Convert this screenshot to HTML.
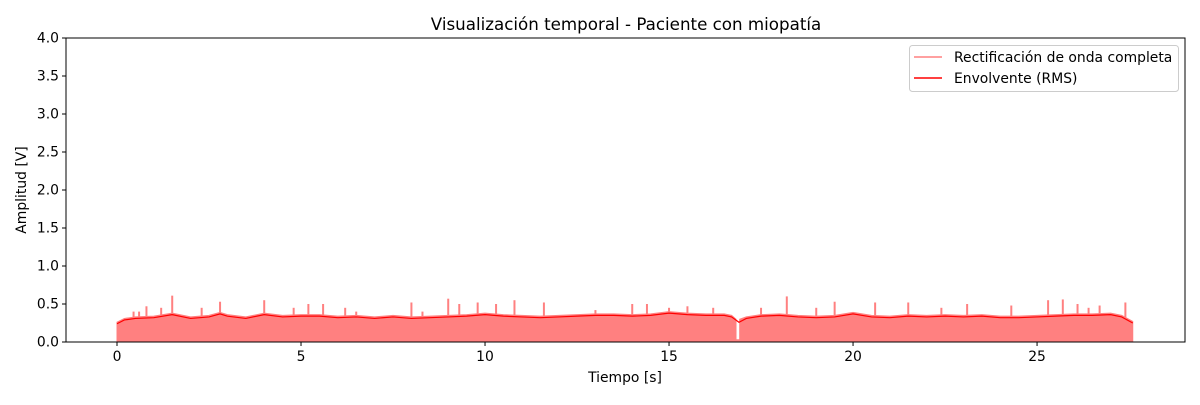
<!DOCTYPE html>
<html><head><meta charset="utf-8"><style>
body{margin:0;background:#fff;font-family:"Liberation Sans","DejaVu Sans",sans-serif}
svg text{font-family:"DejaVu Sans","Liberation Sans",sans-serif}
</style></head><body>
<svg id="c" width="1200" height="400"></svg>
<script>
const envTimes=[0,0.2,0.5,1,1.5,2,2.5,2.8,3,3.5,4,4.5,5,5.5,6,6.5,7,7.5,8,8.5,9,9.5,10,10.5,11,11.5,12,12.5,13,13.5,14,14.5,15,15.5,16,16.5,16.7,16.9,17.1,17.5,18,18.5,19,19.5,20,20.5,21,21.5,22,22.5,23,23.5,24,24.5,25,25.5,26,26.5,27,27.3,27.6];
const envValues=[0.24,0.29,0.31,0.32,0.36,0.31,0.33,0.37,0.34,0.31,0.36,0.33,0.34,0.34,0.32,0.33,0.31,0.33,0.31,0.32,0.33,0.34,0.36,0.34,0.33,0.32,0.33,0.34,0.35,0.35,0.34,0.35,0.38,0.36,0.35,0.35,0.33,0.26,0.31,0.34,0.35,0.33,0.32,0.33,0.37,0.33,0.32,0.34,0.33,0.34,0.33,0.34,0.32,0.32,0.33,0.34,0.35,0.35,0.36,0.33,0.25];
const spikeTimes=[0.45,0.6,0.8,1.2,1.5,2.3,2.8,4.0,4.8,5.2,5.6,6.2,6.5,8.0,8.3,9.0,9.3,9.8,10.3,10.8,11.6,13.0,14.0,14.4,15.0,15.5,16.2,17.5,18.2,19.0,19.5,20.6,21.5,22.4,23.1,24.3,25.3,25.7,26.1,26.4,26.7,27.4];
const spikeValues=[0.4,0.4,0.47,0.45,0.61,0.45,0.53,0.55,0.45,0.5,0.5,0.45,0.4,0.52,0.4,0.57,0.5,0.52,0.5,0.55,0.52,0.42,0.5,0.5,0.45,0.47,0.45,0.45,0.6,0.45,0.53,0.52,0.52,0.45,0.5,0.48,0.55,0.56,0.5,0.45,0.48,0.52];
const gapTimes=[16.82,16.92];const gapValue=0.03;
const yTicks=[0,0.5,1,1.5,2,2.5,3,3.5,4];
const xTicks=[0,5,10,15,20,25];
const L=66,R=1185,T=38,B=342,xmin=-1.386,xmax=29.02,ymax=4;
const X=t=>L+(t-xmin)/(xmax-xmin)*(R-L), Y=v=>B-v/ymax*(B-T);
const svg=document.getElementById('c');const NS='http://www.w3.org/2000/svg';
function mk(tag,attrs,parent){const e=document.createElementNS(NS,tag);for(const k in attrs)e.setAttribute(k,attrs[k]);(parent||svg).appendChild(e);return e;}
let d='M'+X(envTimes[0])+','+Y(0);
envTimes.forEach((t,i)=>{
  if(t>gapTimes[0]&&i>0&&envTimes[i-1]<gapTimes[0]){d+=' L'+X(gapTimes[0])+','+Y(0.3)+' L'+X(gapTimes[0])+','+Y(gapValue)+' L'+X(gapTimes[1])+','+Y(gapValue)+' L'+X(gapTimes[1])+','+Y(0.3);}
  if(t>gapTimes[0]&&t<gapTimes[1])return;
  d+=' L'+X(t)+','+Y(envValues[i]+0.02);
});
d+=' L'+X(envTimes[envTimes.length-1])+','+Y(0)+'Z';
const f=mk('path',{d:d,fill:'#ff8080',stroke:'#ff8080','stroke-width':1});


spikeTimes.forEach((t,i)=>{const s=mk('line',{x1:X(t),x2:X(t),y1:Y(0.3),y2:Y(spikeValues[i]),stroke:'#ff8080','stroke-width':2});

});
const env=mk('polyline',{points:envTimes.map((t,i)=>X(t)+','+Y(envValues[i])).join(' '),fill:'none',stroke:'#ff0000','stroke-width':1.2});


const fr=mk('rect',{x:L,y:T,width:R-L,height:B-T,fill:'none',stroke:'#000','stroke-width':1});


yTicks.forEach(v=>{mk('line',{x1:L-4,x2:L,y1:Y(v),y2:Y(v),stroke:'#000'});
const tx=mk('text',{x:L-7,y:Y(v)+4.5,'text-anchor':'end','font-size':13.9});tx.textContent=v.toFixed(1);

});
xTicks.forEach(v=>{mk('line',{x1:X(v),x2:X(v),y1:B,y2:B+4,stroke:'#000'});
const tx=mk('text',{x:X(v),y:B+19,'text-anchor':'middle','font-size':13.9});tx.textContent=v;

});
</script>
<svg width="1200" height="400" style="position:absolute;left:0;top:0">
<text x="626" y="30" text-anchor="middle" font-size="16.7">Visualización temporal - Paciente con miopatía</text>
<text x="625" y="382" text-anchor="middle" font-size="13.9">Tiempo [s]</text>
<text x="26" y="190" text-anchor="middle" font-size="13.9" transform="rotate(-90 26 190)">Amplitud [V]</text>
<g>
<rect x="909.5" y="45.5" width="269" height="46" rx="3" fill="#fff" fill-opacity="0.8" stroke="#ccc"/>
<line x1="914" x2="942" y1="57" y2="57" stroke="#ff8080" stroke-width="1.5"/>
<text x="954" y="62" font-size="13.9">Rectificación de onda completa</text>
<line x1="914" x2="942" y1="78" y2="78" stroke="#ff0000" stroke-width="1.5"/>
<text x="954" y="83" font-size="13.9">Envolvente (RMS)</text>
</g>
</svg>
</body></html>
